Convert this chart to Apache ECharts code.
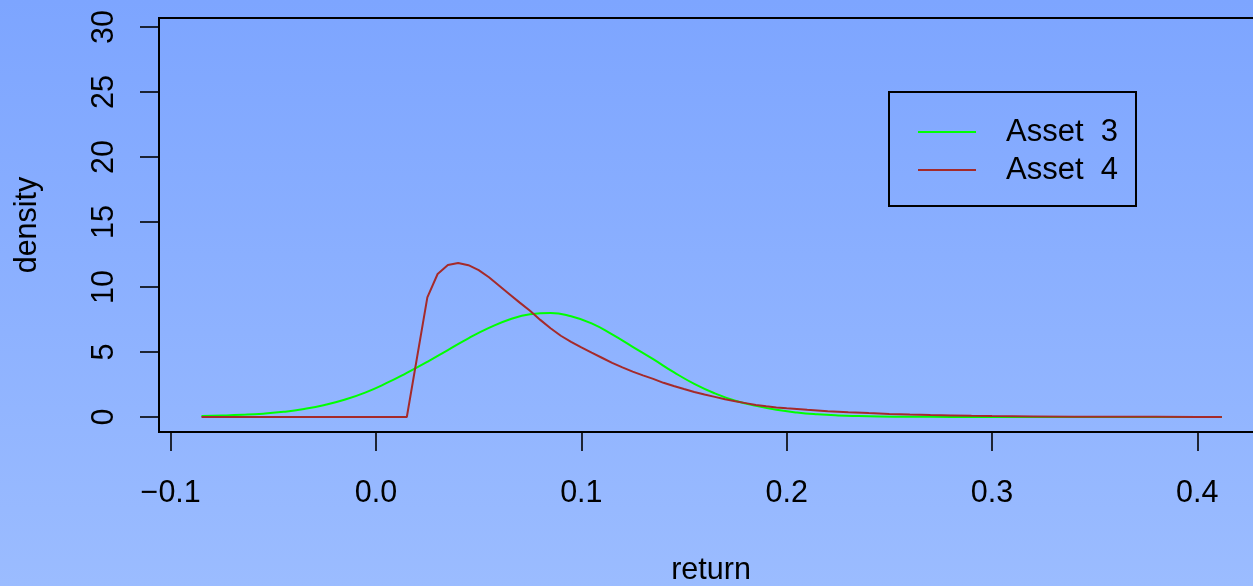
<!DOCTYPE html>
<html><head><meta charset="utf-8">
<script src="https://cdn.jsdelivr.net/npm/echarts@6/dist/echarts.min.js"></script>
<style>
html,body{margin:0;padding:0;}
#c{width:1253px;height:586px;background:linear-gradient(to bottom,#7da5ff 0%,#9bbcff 100%);}
</style>
</head><body><div id="c"></div>
<script>
// Asset 3 density curve
const returns3 = [-0.085,-0.075,-0.065,-0.055,-0.045,-0.035,-0.025,-0.015,-0.005,0.005,0.015,0.025,0.035,0.045,0.055,0.065,0.075,0.085,0.095,0.105,0.115,0.125,0.135,0.145,0.155,0.165,0.175,0.185,0.195,0.205,0.215,0.225,0.235,0.245,0.26,0.28,0.30,0.33,0.36,0.39,0.412];
const density3 = [0.07,0.11,0.17,0.26,0.40,0.62,0.93,1.35,1.90,2.60,3.40,4.25,5.15,6.05,6.85,7.50,7.90,8.00,7.75,7.20,6.35,5.40,4.45,3.45,2.55,1.82,1.25,0.86,0.56,0.35,0.21,0.12,0.07,0.04,0.02,0.008,0.003,0.001,0,0,0];
// Asset 4 density curve
const returns4 = [-0.085,0.015,0.025,0.030,0.035,0.040,0.045,0.050,0.055,0.060,0.065,0.070,0.075,0.080,0.085,0.090,0.095,0.100,0.105,0.110,0.115,0.120,0.125,0.130,0.135,0.140,0.145,0.150,0.155,0.160,0.165,0.170,0.175,0.180,0.185,0.190,0.195,0.200,0.21,0.22,0.23,0.24,0.25,0.26,0.27,0.28,0.29,0.30,0.32,0.34,0.36,0.38,0.40,0.412];
const density4 = [0,0,9.2,11.0,11.7,11.85,11.68,11.3,10.75,10.1,9.45,8.8,8.17,7.47,6.83,6.25,5.78,5.35,4.95,4.56,4.17,3.82,3.49,3.2,2.93,2.63,2.38,2.15,1.93,1.73,1.55,1.36,1.21,1.07,0.93,0.82,0.74,0.67,0.55,0.45,0.37,0.30,0.24,0.19,0.15,0.12,0.09,0.07,0.045,0.03,0.02,0.012,0.008,0.006];
const seriesNames = ['Asset  3','Asset  4'];
const seriesColors = ['#00ff00','#a52a2a'];
const xTicks = [-0.1,0.0,0.1,0.2,0.3,0.4];
const xTickLabels = ['\u22120.1','0.0','0.1','0.2','0.3','0.4'];
const yTicks = [0,5,10,15,20,25,30];
const yTickLabels = ['0','5','10','15','20','25','30'];

const FONT = '"Liberation Sans", Arial, Helvetica, sans-serif';
function lookup(ticks, labels, v){
  for (let i=0;i<ticks.length;i++){ if (Math.abs(ticks[i]-v)<1e-9) return labels[i]; }
  return '';
}
const chart = echarts.init(document.getElementById('c'), null, {renderer:'canvas'});
chart.setOption({
  animation:false,
  backgroundColor:'transparent',
  textStyle:{fontFamily:FONT},
  grid:{left:159, top:18, right:-10, bottom:154, show:true, borderColor:'#000', borderWidth:2, backgroundColor:'transparent', containLabel:false, outerBoundsMode:'none'},
  xAxis:{
    type:'value', min:-0.1057, max:0.432,
    name:'return', nameLocation:'middle', nameGap:123,
    nameTextStyle:{fontSize:30.5, color:'#000', fontFamily:FONT},
    axisLine:{show:false, onZero:false},
    splitLine:{show:false},
    axisTick:{show:true, inside:false, length:19, customValues:xTicks, lineStyle:{color:'#000', width:1.6}},
    axisLabel:{show:true, margin:46, fontSize:30.5, color:'#000', fontFamily:FONT, customValues:xTicks,
      formatter:v=>lookup(xTicks,xTickLabels,v)}
  },
  yAxis:{
    type:'value', min:-1.152, max:30.69,
    name:'density', nameLocation:'middle', nameGap:116, nameRotate:90,
    nameTextStyle:{fontSize:30.5, color:'#000', fontFamily:FONT},
    axisLine:{show:false, onZero:false},
    splitLine:{show:false},
    axisTick:{show:true, inside:false, length:19, customValues:yTicks, lineStyle:{color:'#000', width:1.6}},
    axisLabel:{show:true, rotate:90, margin:39, fontSize:30.5, color:'#000', fontFamily:FONT, customValues:yTicks,
      formatter:v=>lookup(yTicks,yTickLabels,v)}
  },
  legend:{
    show:true, orient:'vertical', left:889, top:92,
    data:seriesNames, icon:'rect',
    padding:[21,18,17,29], itemGap:0, itemWidth:58, itemHeight:2,
    borderColor:'#000', borderWidth:2, borderRadius:0, backgroundColor:'transparent',
    textStyle:{fontSize:31, color:'#000', fontFamily:FONT, lineHeight:38, padding:[0,0,0,25]}
  },
  series:[
    {name:seriesNames[0], type:'line', data:returns3.map((x,i)=>[x,density3[i]]),
      symbol:'none', showSymbol:false, smooth:0.5, clip:true,
      lineStyle:{color:seriesColors[0], width:2}, itemStyle:{color:seriesColors[0]}},
    {name:seriesNames[1], type:'line', data:returns4.map((x,i)=>[x,density4[i]]),
      symbol:'none', showSymbol:false, smooth:false, clip:true,
      lineStyle:{color:seriesColors[1], width:2}, itemStyle:{color:seriesColors[1]}}
  ]
});
</script>
</body></html>
